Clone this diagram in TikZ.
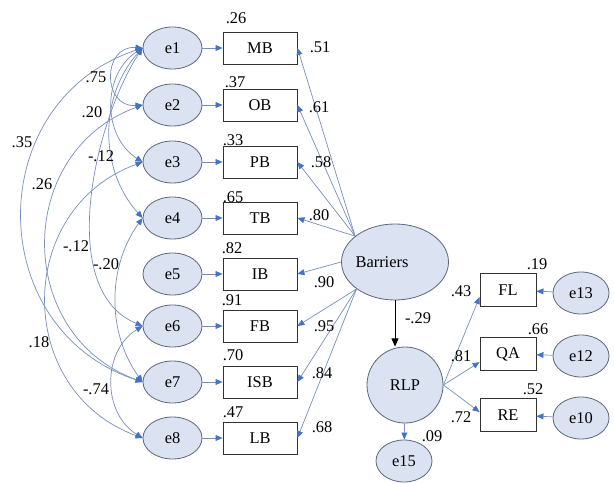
\documentclass[tikz,border=0pt]{standalone}
\usepackage{fontspec}
\setmainfont{Liberation Serif}
\newfontfamily\diagramfont{Liberation Serif}
\usetikzlibrary{arrows.meta,shapes.geometric}
\definecolor{linkblue}{RGB}{118,142,188}
\definecolor{tipblue}{RGB}{68,114,196}
\definecolor{latfill}{RGB}{219,227,242}
\definecolor{latdraw}{RGB}{95,105,125}
\definecolor{boxdraw}{RGB}{50,50,50}

\begin{document}
\begin{tikzpicture}[x=0.03cm, y=-0.03cm,
  font=\diagramfont\fontsize{14}{16}\selectfont,
  evar/.style={ellipse, draw=latdraw, fill=latfill, line width=0.7pt,
    minimum width=1.77cm, minimum height=1.26cm, inner sep=0pt},
  evr/.style={evar, minimum width=1.68cm},
  obs/.style={rectangle, draw=boxdraw, fill=white, line width=0.7pt,
    minimum width=2.22cm, minimum height=0.96cm, inner sep=0pt},
  obsr/.style={obs, minimum width=1.68cm, minimum height=0.99cm},
  lnk/.style={draw=linkblue, line width=0.6pt, -{Triangle[length=6pt,width=5pt,color=tipblue]}},
  cov/.style={draw=linkblue, line width=0.6pt,
    {Triangle[length=6pt,width=5pt,color=tipblue]}-{Triangle[length=6pt,width=5pt,color=tipblue]}},
  num/.style={inner sep=0pt}]

\useasboundingbox (0,0) rectangle (614,484);

% error terms of the indicators
\node[evar] (e1) at (172.5,48) {e1};
\node[evar] (e2) at (172.5,105) {e2};
\node[evar] (e3) at (172.5,162) {e3};
\node[evar] (e4) at (172.5,218) {e4};
\node[evar] (e5) at (172.5,274) {e5};
\node[evar] (e6) at (172.5,326) {e6};
\node[evar] (e7) at (172.5,382) {e7};
\node[evar] (e8) at (172.5,438) {e8};

% indicators of Barriers
\node[obs] (MB) at (260,48) {MB};
\node[obs] (OB) at (260,105) {OB};
\node[obs] (PB) at (260,162) {PB};
\node[obs] (TB) at (260,218) {TB};
\node[obs] (IB) at (260,274) {IB};
\node[obs] (FB) at (260,326) {FB};
\node[obs] (ISB) at (260,382) {ISB};
\node[obs] (LB) at (260,438) {LB};

% latent variables
\node[ellipse, draw=latdraw, fill=latfill, line width=0.7pt,
  minimum width=3.21cm, minimum height=2.28cm, inner sep=0pt,
  label={[xshift=-0.39cm]center:Barriers}] (Barriers) at (395,262) {};
\node[circle, draw=latdraw, fill=latfill, line width=0.7pt,
  minimum size=2.28cm, inner sep=0pt] (RLP) at (405,385) {RLP};
\node[evr] (e15) at (404,461) {e15};

% indicators of RLP
\node[obsr] (FL) at (508,290) {FL};
\node[obsr] (QA) at (508,354) {QA};
\node[obsr] (RE) at (508,415) {RE};
\node[evr] (e13) at (581,293) {e13};
\node[evr] (e12) at (581,356) {e12};
\node[evr] (e10) at (581,418) {e10};

% error -> indicator
\foreach \e/\o in {e1/MB,e2/OB,e3/PB,e4/TB,e5/IB,e6/FB,e7/ISB,e8/LB,e13/FL,e12/QA,e10/RE}
  \draw[lnk] (\e) -- (\o);

% loadings of Barriers
\foreach \o in {MB,OB,PB,TB}
  \draw[lnk] (Barriers.147) -- (\o.east);
\draw[lnk] (Barriers.180) -- (IB.east);
\foreach \o in {FB,ISB,LB}
  \draw[lnk] (Barriers.215) -- (\o.east);

% structural path and RLP loadings
\draw[black, line width=0.7pt, -{Triangle[length=7pt,width=6pt]}]
  (Barriers.south) -- (Barriers.south |- RLP.north);
\draw[lnk] (RLP.east) -- (FL.194);
\draw[lnk] (RLP.east) -- (QA.196);
\draw[lnk] (RLP.east) -- (RE.174);
\draw[lnk] (RLP) -- (e15);

% error covariances
\draw[cov] (e1.west) .. controls (102,45) and (102,108) .. (e2.west);
\draw[cov] (e1.west) .. controls (-18,101) and (-18,329) .. (e7.west);
\draw[cov] (e2.west) .. controls (14,152) and (14,335) .. (e7.west);
\draw[cov] (e3.west) .. controls (14,209) and (14,391) .. (e8.west);
\draw[cov] (e6.west) .. controls (102,351) and (102,413) .. (e8.west);
\draw[cov] (e1.west) .. controls (102,74) and (102,136) .. (e3.west);
\draw[cov] (e1.west) .. controls (99,96) and (99,170) .. (e4.west);
\draw[cov] (e1.west) .. controls (95,120) and (55,290) .. (e6.west);
\draw[cov] (e4.west) .. controls (107,267) and (107,333) .. (e7.west);

% covariance values
\node[num] (c12) at (96,77) {.75};
\node[num] (c13) at (92,112) {.20};
\node[num] (c17) at (22,142) {.35};
\node[num] (c14) at (101,156) {-.12};
\node[num] (c27) at (42,184) {.26};
\node[num] (c16) at (76,246) {-.12};
\node[num] (c47) at (106,264) {-.20};
\node[num] (c38) at (39,342) {.18};
\node[num] (c68) at (96,389) {-.74};

% squared multiple correlations
\node[num] (rMB) at (236,18) {.26};
\node[num] (rOB) at (235,82) {.37};
\node[num] (rPB) at (233,140) {.33};
\node[num] (rTB) at (233,197) {.65};
\node[num] (rIB) at (232,248) {.82};
\node[num] (rFB) at (232,300) {.91};
\node[num] (rISB) at (233,355) {.70};
\node[num] (rLB) at (233,412) {.47};
\node[num] (rFL) at (537,264) {.19};
\node[num] (rQA) at (538,329) {.66};
\node[num] (rRE) at (533,389) {.52};
\node[num] (rRLP) at (432,436) {.09};

% standardized loadings
\node[num] (lMB) at (320,47) {.51};
\node[num] (lOB) at (319,107) {.61};
\node[num] (lPB) at (321,162) {.58};
\node[num] (lTB) at (319,215) {.80};
\node[num] (lIB) at (324,282) {.90};
\node[num] (lFB) at (324,326) {.95};
\node[num] (lISB) at (322,373) {.84};
\node[num] (lLB) at (322,427) {.68};
\node[num] (lFL) at (461,291) {.43};
\node[num] (lQA) at (461,356) {.81};
\node[num] (lRE) at (461,417) {.72};
\node[num] (lRLP) at (418,318) {-.29};
\end{tikzpicture}
\end{document}
